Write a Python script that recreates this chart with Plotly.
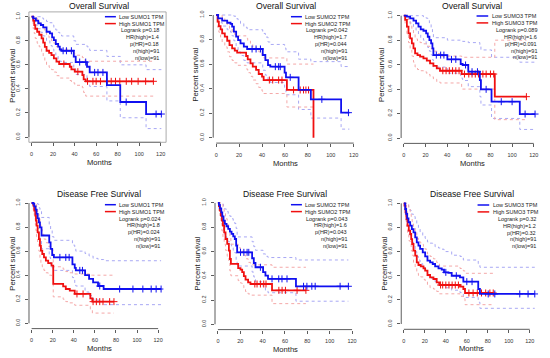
import numpy as np
import plotly.graph_objects as go

# ---------------- DATA ----------------
months_ticks = [0, 20, 40, 60, 80, 100, 120]
surv_ticks = [0.0, 0.2, 0.4, 0.6, 0.8, 1.0]
surv_ticktext = ["0.0", "0.2", "0.4", "0.6", "0.8", "1.0"]

titles = ["Overall Survival", "Overall Survival", "Overall Survival",
          "Disease Free Survival", "Disease Free Survival", "Disease Free Survival"]
genes = ["SUMO1", "SUMO2", "SUMO3", "SUMO1", "SUMO2", "SUMO3"]
logrank_p = ["0.18", "0.042", "0.089", "0.024", "0.043", "0.32"]
hr_high = ["1.4", "1.7", "1.6", "1.8", "1.6", "1.2"]
p_hr = ["0.18", "0.044", "0.091", "0.024", "0.043", "0.32"]
n_high = [91, 91, 91, 91, 91, 91]
n_low = [91, 91, 91, 91, 91, 91]

# Panel 1: OS SUMO1
p1_low_t = [0, 1.5, 4, 6.2, 8.6, 10.8, 13.9, 17, 19.1, 20.7, 22.5, 24.7, 26.2, 27.8, 39.2, 41, 51.5, 54, 70, 82.4, 106.4, 120.6]
p1_low_s = [1, 0.986, 0.967, 0.945, 0.931, 0.911, 0.875, 0.861, 0.828, 0.806, 0.773, 0.751, 0.729, 0.717, 0.668, 0.623, 0.584, 0.537, 0.432, 0.291, 0.191, 0.191]
p1_low_up = [1, 1, 1, 1, 0.99, 0.98, 0.96, 0.95, 0.93, 0.91, 0.89, 0.87, 0.85, 0.84, 0.80, 0.77, 0.75, 0.72, 0.67, 0.60, 0.56, 0.56]
p1_low_lo = [1, 0.96, 0.93, 0.90, 0.87, 0.84, 0.80, 0.76, 0.73, 0.71, 0.68, 0.65, 0.63, 0.62, 0.57, 0.52, 0.47, 0.42, 0.30, 0.16, 0.07, 0.07]
p1_low_cens = [29.3, 32.4, 37, 44.7, 50.3, 58.6, 61.7, 66.3, 87.9, 115.7, 120.6]
p1_high_t = [0, 1.5, 2.5, 3.4, 5.2, 7.1, 9.3, 10.8, 12.3, 13.9, 16.3, 18.5, 20.7, 23.1, 25.6, 35.5, 37, 40.1, 47.2, 48.4, 50.3, 113.2]
p1_high_s = [1, 0.967, 0.93, 0.90, 0.875, 0.85, 0.82, 0.784, 0.75, 0.717, 0.70, 0.68, 0.654, 0.626, 0.607, 0.584, 0.562, 0.543, 0.515, 0.479, 0.463, 0.463]
p1_high_up = [1, 1, 1, 0.99, 0.97, 0.95, 0.93, 0.90, 0.87, 0.84, 0.82, 0.80, 0.78, 0.75, 0.73, 0.71, 0.70, 0.68, 0.66, 0.64, 0.63, 0.63]
p1_high_lo = [1, 0.90, 0.86, 0.82, 0.78, 0.75, 0.71, 0.67, 0.63, 0.60, 0.58, 0.56, 0.54, 0.51, 0.49, 0.47, 0.45, 0.43, 0.41, 0.37, 0.34, 0.34]
p1_high_cens = [30, 43, 52, 57, 60, 64, 70, 74, 78, 82, 88, 93, 99, 106, 113.2]

# Panel 2: OS SUMO2
p2_low_t = [0, 1.7, 5.2, 9.6, 12.5, 13.9, 15.4, 17.4, 19.1, 21.2, 24.1, 27, 40.6, 42.9, 45.2, 47.2, 59.7, 60.9, 71.9, 82.6, 109, 116.2]
p2_low_s = [1, 0.973, 0.954, 0.937, 0.927, 0.905, 0.864, 0.823, 0.796, 0.769, 0.742, 0.723, 0.674, 0.633, 0.592, 0.579, 0.530, 0.492, 0.389, 0.3125, 0.204, 0.204]
p2_low_up = [1, 1, 1, 1, 1, 1, 0.99, 0.97, 0.95, 0.93, 0.90, 0.88, 0.85, 0.82, 0.78, 0.76, 0.73, 0.70, 0.64, 0.62, 0.58, 0.58]
p2_low_lo = [1, 0.94, 0.91, 0.88, 0.86, 0.83, 0.79, 0.74, 0.70, 0.67, 0.63, 0.61, 0.55, 0.51, 0.47, 0.45, 0.40, 0.35, 0.23, 0.16, 0.07, 0.07]
p2_low_cens = [31.3, 34.8, 38.6, 51.6, 54.5, 55.9, 64.6, 92.2, 115.4]
p2_high_t = [0, 1.2, 2.3, 3.8, 5.2, 7.5, 9.6, 11.6, 13.9, 16.2, 18.3, 26.1, 27.5, 29.9, 31.9, 34.8, 37.1, 40, 41.4, 61.7, 84.9]
p2_high_s = [1, 0.946, 0.91, 0.883, 0.85, 0.823, 0.79, 0.755, 0.728, 0.709, 0.693, 0.666, 0.639, 0.606, 0.579, 0.552, 0.519, 0.497, 0.47, 0.389, 0.0]
p2_high_up = [1, 1, 1, 1, 0.98, 0.95, 0.92, 0.89, 0.86, 0.84, 0.83, 0.81, 0.79, 0.77, 0.74, 0.72, 0.70, 0.67, 0.65, 0.60, 0.60]
p2_high_lo = [1, 0.90, 0.86, 0.82, 0.78, 0.74, 0.70, 0.66, 0.63, 0.61, 0.59, 0.56, 0.53, 0.50, 0.47, 0.44, 0.41, 0.38, 0.36, 0.25, 0.25]
p2_high_cens = [46.4, 49.3, 54.5, 57.4, 67.5, 73.3, 76.2, 78.3, 80.6]

# Panel 3: OS SUMO3
p3_low_t = [0, 2.8, 5.8, 8.9, 11.3, 13.5, 15.6, 18.1, 20.6, 22.1, 23.6, 25.2, 26.4, 27.3, 40.2, 52.5, 54.3, 59.5, 70.2, 71.2, 81, 107.1, 121.2]
p3_low_s = [1, 0.992, 0.978, 0.959, 0.937, 0.91, 0.888, 0.877, 0.856, 0.828, 0.801, 0.774, 0.733, 0.678, 0.643, 0.605, 0.597, 0.542, 0.474, 0.398, 0.297, 0.196, 0.196]
p3_low_up = [1, 1, 1, 1, 1, 1, 1, 0.99, 0.98, 0.96, 0.93, 0.90, 0.86, 0.82, 0.80, 0.80, 0.79, 0.78, 0.76, 0.72, 0.66, 0.62, 0.62]
p3_low_lo = [1, 0.97, 0.94, 0.91, 0.88, 0.85, 0.82, 0.80, 0.77, 0.74, 0.71, 0.68, 0.64, 0.58, 0.53, 0.49, 0.47, 0.42, 0.34, 0.27, 0.16, 0.07, 0.07]
p3_low_cens = [30, 34, 37, 44, 48, 57, 63, 68, 76, 90, 100, 112, 121.2]
p3_high_t = [0, 1.2, 2.8, 4.3, 5.8, 7.4, 8.9, 10.4, 12.6, 15, 18.1, 21.2, 24.2, 27.3, 30.4, 33.4, 53.4, 84, 113.2]
p3_high_s = [1, 0.965, 0.91, 0.856, 0.815, 0.774, 0.733, 0.692, 0.678, 0.665, 0.651, 0.632, 0.61, 0.589, 0.569, 0.55, 0.523, 0.338, 0.338]
p3_high_up = [1, 1, 0.99, 0.96, 0.93, 0.89, 0.85, 0.81, 0.79, 0.78, 0.77, 0.75, 0.73, 0.71, 0.69, 0.67, 0.66, 0.80, 0.80]
p3_high_lo = [1, 0.92, 0.85, 0.78, 0.72, 0.67, 0.62, 0.58, 0.56, 0.55, 0.54, 0.52, 0.50, 0.48, 0.46, 0.45, 0.40, 0.15, 0.15]
p3_high_cens = [36, 39, 42, 45, 48, 51, 56, 60, 63, 66, 69, 73, 76, 80, 83, 113.2]

# Panel 4: DFS SUMO1
p4_low_t = [0, 1.6, 2.5, 3.8, 4.7, 5.7, 6.9, 7.9, 9.4, 16.7, 18, 19.5, 21.1, 38.7, 40.9, 41.9, 50.7, 54.5, 58.3, 63, 68.3, 122.8]
p4_low_s = [1, 0.992, 0.972, 0.945, 0.909, 0.873, 0.839, 0.798, 0.73, 0.673, 0.618, 0.568, 0.548, 0.49, 0.46, 0.44, 0.40, 0.37, 0.34, 0.31, 0.285, 0.285]
p4_low_up = [1, 1, 1, 1, 1, 0.99, 0.96, 0.93, 0.88, 0.82, 0.77, 0.72, 0.69, 0.65, 0.62, 0.60, 0.58, 0.56, 0.54, 0.53, 0.52, 0.52]
p4_low_lo = [1, 0.97, 0.93, 0.89, 0.84, 0.79, 0.74, 0.69, 0.62, 0.55, 0.49, 0.46, 0.44, 0.38, 0.33, 0.31, 0.26, 0.23, 0.20, 0.18, 0.155, 0.155]
p4_low_cens = [26.8, 32.4, 35.6, 45.7, 48.2, 64.6, 83.5, 96.1, 105.5, 113.4, 118.1, 122.8]
p4_high_t = [0, 1.6, 2.5, 3.5, 4.1, 4.7, 5.7, 6.9, 7.9, 8.8, 10.1, 11.7, 13.5, 15.7, 18.9, 20.5, 29.9, 32.4, 36.2, 40.9, 55.7, 57.6, 78.1]
p4_high_s = [1, 0.978, 0.936, 0.895, 0.853, 0.812, 0.756, 0.70, 0.645, 0.604, 0.576, 0.548, 0.521, 0.501, 0.479, 0.327, 0.307, 0.285, 0.271, 0.244, 0.208, 0.18, 0.18]
p4_high_up = [1, 1, 1, 1, 0.99, 0.96, 0.92, 0.87, 0.82, 0.78, 0.74, 0.70, 0.67, 0.64, 0.61, 0.47, 0.45, 0.43, 0.42, 0.41, 0.40, 0.40, 0.40]
p4_high_lo = [1, 0.94, 0.88, 0.82, 0.77, 0.72, 0.66, 0.60, 0.54, 0.50, 0.47, 0.44, 0.42, 0.40, 0.38, 0.22, 0.20, 0.18, 0.17, 0.15, 0.11, 0.085, 0.085]
p4_high_cens = [43, 48.8, 58.3, 61.4, 64.6, 67.7, 74, 78.1]

# Panel 5: DFS SUMO2
p5_low_t = [0, 0.9, 1.8, 3, 3.9, 5, 6.2, 7.7, 9.2, 10.7, 12.2, 13.7, 15.1, 16.3, 17.2, 30.6, 32.1, 33.6, 40.4, 42.5, 44.8, 69.8, 116.7]
p5_low_s = [1, 0.984, 0.956, 0.923, 0.89, 0.854, 0.827, 0.808, 0.786, 0.764, 0.745, 0.725, 0.703, 0.648, 0.593, 0.544, 0.505, 0.47, 0.429, 0.401, 0.374, 0.313, 0.313]
p5_low_up = [1, 1, 1, 1, 0.99, 0.97, 0.95, 0.93, 0.91, 0.89, 0.87, 0.85, 0.83, 0.79, 0.72, 0.68, 0.64, 0.61, 0.58, 0.56, 0.55, 0.53, 0.53]
p5_low_lo = [1, 0.96, 0.92, 0.87, 0.82, 0.77, 0.74, 0.71, 0.68, 0.66, 0.63, 0.61, 0.59, 0.53, 0.48, 0.43, 0.39, 0.35, 0.31, 0.28, 0.26, 0.19, 0.19]
p5_low_cens = [20.2, 23.2, 26.1, 27.6, 38, 48.4, 54.4, 57.3, 61.8, 76.6, 79.6, 84, 87, 109.3, 116.7]
p5_high_t = [0, 0.9, 1.8, 2.7, 3.6, 4.5, 5.6, 6.8, 8.3, 9.8, 10.7, 11.6, 18.1, 20.2, 21.7, 23.2, 24.7, 27, 29.1, 48.4, 78.7]
p5_high_s = [1, 0.973, 0.937, 0.896, 0.854, 0.813, 0.758, 0.703, 0.662, 0.607, 0.538, 0.497, 0.462, 0.451, 0.429, 0.396, 0.368, 0.346, 0.332, 0.28, 0.28]
p5_high_up = [1, 1, 1, 1, 0.99, 0.96, 0.92, 0.87, 0.82, 0.78, 0.72, 0.66, 0.63, 0.62, 0.60, 0.57, 0.54, 0.51, 0.49, 0.47, 0.47]
p5_high_lo = [1, 0.93, 0.88, 0.83, 0.77, 0.72, 0.66, 0.61, 0.56, 0.51, 0.44, 0.40, 0.36, 0.34, 0.32, 0.30, 0.27, 0.25, 0.24, 0.17, 0.17]
p5_high_cens = [33, 35, 38, 41, 43, 54.5, 57.4, 60.4, 70.8, 78.7]

# Panel 6: DFS SUMO3
p6_low_t = [0, 1.3, 2.2, 3.2, 4.4, 6, 7.6, 9.2, 10.8, 12.3, 13.9, 15.5, 18, 20.3, 22.5, 25, 27.5, 29.8, 33, 36.1, 38.3, 42.4, 45.6, 53.5, 56.7, 70.9, 72.5, 124.8]
p6_low_s = [1, 0.953, 0.912, 0.876, 0.843, 0.815, 0.787, 0.76, 0.718, 0.677, 0.649, 0.622, 0.594, 0.561, 0.525, 0.511, 0.497, 0.478, 0.461, 0.45, 0.428, 0.423, 0.40, 0.387, 0.351, 0.29, 0.249, 0.249]
p6_low_up = [1, 1, 1, 0.99, 0.97, 0.94, 0.91, 0.89, 0.86, 0.82, 0.79, 0.76, 0.73, 0.71, 0.68, 0.67, 0.66, 0.64, 0.63, 0.62, 0.60, 0.60, 0.57, 0.56, 0.53, 0.50, 0.47, 0.47]
p6_low_lo = [1, 0.91, 0.85, 0.80, 0.75, 0.71, 0.68, 0.65, 0.60, 0.56, 0.53, 0.50, 0.47, 0.44, 0.40, 0.38, 0.37, 0.35, 0.33, 0.32, 0.30, 0.30, 0.28, 0.26, 0.22, 0.18, 0.13, 0.13]
p6_low_cens = [40, 50, 60, 65, 80.4, 86.7, 110.5, 118.4, 124.8]
p6_high_t = [0, 0.6, 1.6, 2.5, 3.5, 4.7, 6, 7, 7.9, 9.2, 10.8, 12.3, 13.9, 16.1, 18.7, 20.3, 22.5, 25, 28.2, 31.3, 33.9, 53.5, 56.7, 58.3, 85.2]
p6_high_s = [1, 0.981, 0.925, 0.87, 0.815, 0.773, 0.746, 0.704, 0.663, 0.608, 0.566, 0.511, 0.489, 0.478, 0.461, 0.442, 0.406, 0.387, 0.373, 0.345, 0.323, 0.309, 0.29, 0.257, 0.257]
p6_high_up = [1, 1, 1, 1, 0.99, 0.96, 0.93, 0.89, 0.85, 0.80, 0.76, 0.71, 0.68, 0.66, 0.64, 0.62, 0.58, 0.56, 0.54, 0.51, 0.48, 0.46, 0.44, 0.42, 0.42]
p6_high_lo = [1, 0.95, 0.88, 0.81, 0.74, 0.69, 0.66, 0.61, 0.57, 0.51, 0.47, 0.42, 0.40, 0.39, 0.37, 0.35, 0.32, 0.30, 0.29, 0.27, 0.25, 0.23, 0.21, 0.16, 0.16]
p6_high_cens = [35, 37, 40, 43, 46, 49, 52, 62, 66, 70, 74, 78, 82, 85.2]

panels_data = [
    (p1_low_t, p1_low_s, p1_low_up, p1_low_lo, p1_low_cens, p1_high_t, p1_high_s, p1_high_up, p1_high_lo, p1_high_cens),
    (p2_low_t, p2_low_s, p2_low_up, p2_low_lo, p2_low_cens, p2_high_t, p2_high_s, p2_high_up, p2_high_lo, p2_high_cens),
    (p3_low_t, p3_low_s, p3_low_up, p3_low_lo, p3_low_cens, p3_high_t, p3_high_s, p3_high_up, p3_high_lo, p3_high_cens),
    (p4_low_t, p4_low_s, p4_low_up, p4_low_lo, p4_low_cens, p4_high_t, p4_high_s, p4_high_up, p4_high_lo, p4_high_cens),
    (p5_low_t, p5_low_s, p5_low_up, p5_low_lo, p5_low_cens, p5_high_t, p5_high_s, p5_high_up, p5_high_lo, p5_high_cens),
    (p6_low_t, p6_low_s, p6_low_up, p6_low_lo, p6_low_cens, p6_high_t, p6_high_s, p6_high_up, p6_high_lo, p6_high_cens),
]

# ---------------- LAYOUT GEOMETRY (pixels) ----------------
W, H = 550, 358
# x-left px, x-right px, top px, bottom px, x range, y range
geom = [
    (29.0, 166.7, 11.9, 142.3, [-2.5, 125], [-0.044, 1.04]),
    (214.0, 357.3, 10.1, 143.1, [-2.6, 122], [-0.044, 1.04]),
    (402.6, 544.4, 10.8, 143.4, [-2.5, 128], [-0.044, 1.04]),
    (29.1, 164.0, 198.2, 328.6, [-2.5, 125], [-0.044, 1.04]),
    (215.8, 355.6, 198.1, 329.6, [-2.6, 122], [-0.044, 1.04]),
    (402.7, 540.1, 198.5, 329.3, [-2.5, 128], [-0.044, 1.04]),
]
# legend: line x0, line x1, label left, stats right, first-line y, spacing
leg = [
    (105.3, 116.3, 117.5, 162.0, 16.7, 6.9),
    (292.0, 303.0, 304.3, 350.7, 16.7, 6.9),
    (478.3, 490.0, 491.7, 540.7, 16.0, 6.9),
    (105.3, 116.3, 117.3, 162.3, 204.7, 6.9),
    (292.0, 303.0, 304.3, 350.7, 204.7, 6.9),
    (479.3, 491.0, 492.3, 540.0, 205.0, 6.9),
]
title_pos = [(99.3, 6), (286.7, 6), (473.7, 6), (99.2, 194), (286.3, 194), (473.8, 194)]
ytitle_pos = [(11.7, 76), (196.3, 75), (383.3, 75), (11.7, 264), (197.3, 264), (385, 264)]
xtitle_pos = [(99.5, 162.7), (286.3, 163), (474, 163), (99.5, 348), (286.3, 349), (473.7, 348)]

FONT = "Liberation Sans, Arial, sans-serif"
BLUE, RED = "#1010f0", "#f01010"
BLUE_CI, RED_CI = "#a8a8f4", "#f4a8a8"
AX = "#333333"

def px(x):
    return x / W

def py(y):
    return 1 - y / H

def step_value(t, s, c):
    t = np.asarray(t, float)
    s = np.asarray(s, float)
    idx = np.searchsorted(t, np.asarray(c, float), side="right") - 1
    return s[np.clip(idx, 0, len(s) - 1)]

fig = go.Figure()
shapes = []
annotations = []

for i in range(6):
    n = i + 1
    xa = "x" if n == 1 else f"x{n}"
    ya = "y" if n == 1 else f"y{n}"
    lt, ls, lu, ll, lc, ht, hs, hu, hl, hc = panels_data[i]

    for t, vals, col in [(lt, lu, BLUE_CI), (lt, ll, BLUE_CI), (ht, hu, RED_CI), (ht, hl, RED_CI)]:
        fig.add_trace(go.Scatter(x=t, y=vals, mode="lines", line_shape="hv",
                                 line=dict(color=col, width=1, dash="dot"),
                                 xaxis=xa, yaxis=ya, showlegend=False, hoverinfo="skip"))
    for t, s, c, col in [(ht, hs, hc, RED), (lt, ls, lc, BLUE)]:
        fig.add_trace(go.Scatter(x=t, y=s, mode="lines", line_shape="hv",
                                 line=dict(color=col, width=1.8),
                                 xaxis=xa, yaxis=ya, showlegend=False))
        fig.add_trace(go.Scatter(x=c, y=step_value(t, s, c), mode="markers",
                                 marker=dict(symbol="cross-thin", size=5,
                                             line=dict(color=col, width=1)),
                                 xaxis=xa, yaxis=ya, showlegend=False))

    x0, x1, top, bot, xr, yr = geom[i]
    fig.update_layout(**{
        ("xaxis" if n == 1 else f"xaxis{n}"): dict(
            domain=[px(x0), px(x1)], range=xr, anchor=ya,
            tickmode="array", tickvals=months_ticks,
            ticks="outside", ticklen=3, tickwidth=0.8, tickcolor=AX,
            showline=False, showgrid=False, zeroline=False,
            tickfont=dict(family=FONT, size=5.5, color=AX), ticklabelstandoff=3),
        ("yaxis" if n == 1 else f"yaxis{n}"): dict(
            domain=[py(bot), py(top)], range=yr, anchor=xa,
            tickmode="array", tickvals=surv_ticks, ticktext=surv_ticktext,
            tickangle=-90,
            ticks="outside", ticklen=3, tickwidth=0.8, tickcolor=AX,
            showline=False, showgrid=False, zeroline=False,
            tickfont=dict(family=FONT, size=5.5, color=AX), ticklabelstandoff=3),
    })
    # R-style axis lines spanning first to last tick
    shapes.append(dict(type="line", xref=xa, yref=f"{ya} domain",
                       x0=months_ticks[0], x1=months_ticks[-1], y0=0, y1=0,
                       line=dict(color=AX, width=0.8)))
    shapes.append(dict(type="line", xref=f"{xa} domain", yref=ya,
                       x0=0, x1=0, y0=surv_ticks[0], y1=surv_ticks[-1],
                       line=dict(color=AX, width=0.8)))
    if n == 1:
        shapes.append(dict(type="rect", xref=f"{xa} domain", yref=f"{ya} domain",
                           x0=0, x1=1, y0=0, y1=1, line=dict(color="#888888", width=0.7)))

    # legend
    lx0, lx1, lab_l, st_r, ly0, sp = leg[i]
    for k, col in enumerate([BLUE, RED]):
        shapes.append(dict(type="line", xref="paper", yref="paper",
                           x0=px(lx0), x1=px(lx1), y0=py(ly0 + k * sp), y1=py(ly0 + k * sp),
                           line=dict(color=col, width=1.5)))
    for k, txt in enumerate([f"Low {genes[i]} TPM", f"High {genes[i]} TPM"]):
        annotations.append(dict(text=txt, x=px(lab_l), y=py(ly0 + k * sp), xref="paper", yref="paper",
                                xanchor="left", yanchor="middle", showarrow=False,
                                font=dict(family=FONT, size=5.5, color="#222")))
    stats = [f"Logrank p={logrank_p[i]}", f"HR(high)={hr_high[i]}", f"p(HR)={p_hr[i]}",
             f"n(high)={n_high[i]}", f"n(low)={n_low[i]}"]
    for k, txt in enumerate(stats):
        annotations.append(dict(text=txt, x=px(st_r), y=py(ly0 + (k + 2) * sp), xref="paper", yref="paper",
                                xanchor="right", yanchor="middle", showarrow=False,
                                font=dict(family=FONT, size=5.5, color="#222")))
    # titles
    tx, ty = title_pos[i]
    annotations.append(dict(text=titles[i], x=px(tx), y=py(ty), xref="paper", yref="paper",
                            xanchor="center", yanchor="middle", showarrow=False,
                            font=dict(family=FONT, size=8.6, color="#111")))
    yx, yy = ytitle_pos[i]
    annotations.append(dict(text="Percent survival", x=px(yx), y=py(yy), xref="paper", yref="paper",
                            xanchor="center", yanchor="middle", showarrow=False, textangle=-90,
                            font=dict(family=FONT, size=7.6, color="#222")))
    xx, xy = xtitle_pos[i]
    annotations.append(dict(text="Months", x=px(xx), y=py(xy), xref="paper", yref="paper",
                            xanchor="center", yanchor="middle", showarrow=False,
                            font=dict(family=FONT, size=7.6, color="#222")))

fig.update_layout(width=W, height=H, margin=dict(l=0, r=0, t=0, b=0),
                  paper_bgcolor="white", plot_bgcolor="white",
                  shapes=shapes, annotations=annotations, showlegend=False)
fig.write_html("out.html",
               config={"displayModeBar": False, "staticPlot": True},
               post_script="document.body.style.margin='0';document.body.style.padding='0';"
                           "document.body.style.overflow='hidden';")
